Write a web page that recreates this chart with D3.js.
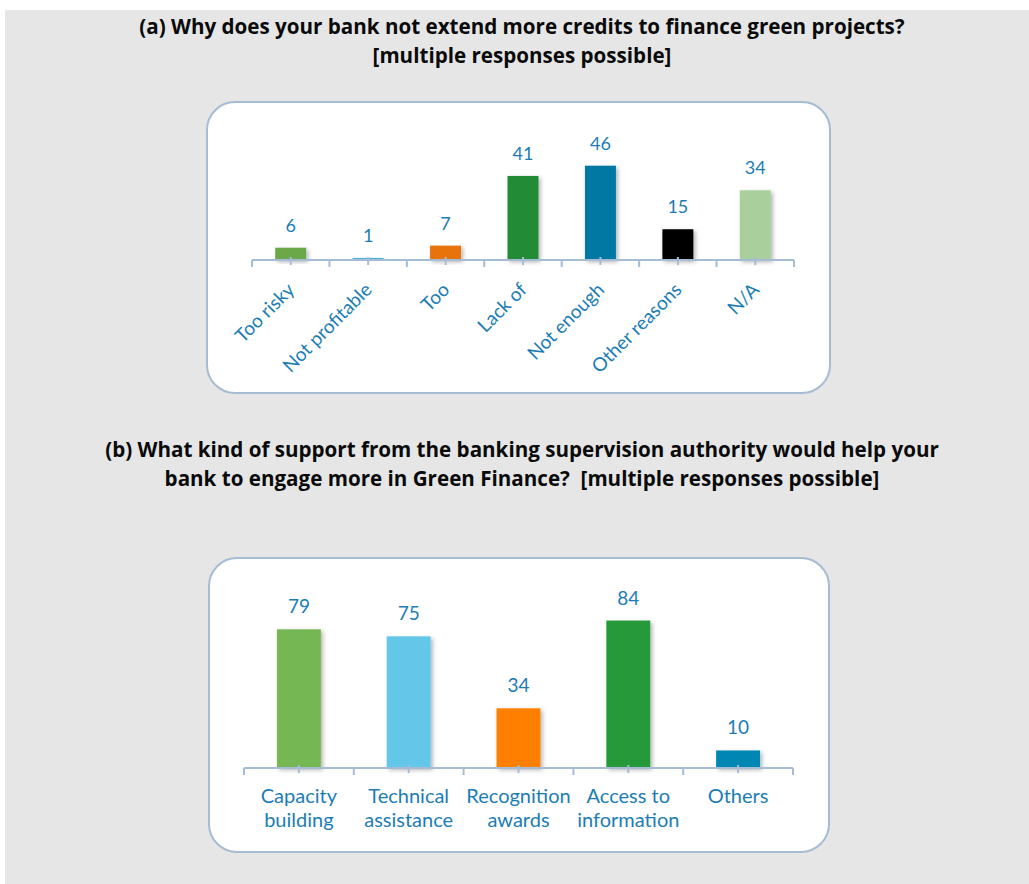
<!DOCTYPE html>
<html>
<head>
<meta charset="utf-8">
<script src="https://cdn.jsdelivr.net/npm/d3@7"></script>
<style>
  body { margin: 0; background: #fff; }
  svg { display: block; }
</style>
</head>
<body>
<svg id="chart"></svg>
<script>
// panel (a)
const reasons = ['Too risky', 'Not profitable', 'Too', 'Lack of', 'Not enough', 'Other reasons', 'N/A']
const reasonCounts = [6, 1, 7, 41, 46, 15, 34]
const reasonColors = ['#6aa84a', '#4eb1d6', '#e8730a', '#228b34', '#0078a3', '#000000', '#a9cf9c']

// panel (b)
const supports = [['Capacity', 'building'], ['Technical', 'assistance'], ['Recognition', 'awards'], ['Access to', 'information'], ['Others']]
const supportCounts = [79, 75, 34, 84, 10]
const supportColors = ['#75b752', '#63c7ea', '#ff8000', '#289a3a', '#0086b2']

const W = 1029, H = 884
const textColor = '#1b7db4'
const axisColor = '#a6bcd4'
const font = 'Lato, "Open Sans", sans-serif'

const svg = d3.select('#chart').attr('width', W).attr('height', H)

const defs = svg.append('defs')
const shadow = defs.append('filter').attr('id', 'shadow')
  .attr('x', '-20%').attr('y', '-20%').attr('width', '150%').attr('height', '150%')
shadow.append('feDropShadow')
  .attr('dx', 2).attr('dy', 2).attr('stdDeviation', 2)
  .attr('flood-color', '#000').attr('flood-opacity', 0.3)

svg.append('rect')
  .attr('x', 5).attr('y', 10)
  .attr('width', W - 5).attr('height', H - 10)
  .attr('fill', '#e6e6e6')

function title(lines, y0) {
  svg.append('text')
    .attr('x', 522)
    .attr('y', y0)
    .attr('text-anchor', 'middle')
    .style('font', 'bold 20.6px "Open Sans", sans-serif')
    .style('white-space', 'pre')
    .style('fill', '#0a0a0a')
    .selectAll('tspan')
    .data(lines)
    .enter()
    .append('tspan')
    .attr('x', 522)
    .attr('dy', (d, i) => i ? 28.5 : 0)
    .text(d => d)
}

function panel(x, y, w, h) {
  svg.append('rect')
    .attr('x', x).attr('y', y)
    .attr('width', w).attr('height', h)
    .attr('rx', 28)
    .attr('fill', '#fff')
    .attr('stroke', axisColor)
    .attr('stroke-width', 2)
}

function axis(x, y0, names) {
  const g = svg.append('g')
  const [x0, x1] = x.range()
  g.append('line')
    .attr('x1', x0).attr('x2', x1)
    .attr('y1', y0).attr('y2', y0)
    .attr('stroke', axisColor).attr('stroke-width', 2)
  const edges = names.map(n => x(n)).concat([x1])
  g.selectAll('.edge')
    .data(edges)
    .enter()
    .append('line')
    .attr('x1', d => d).attr('x2', d => d)
    .attr('y1', y0).attr('y2', y0 + 7)
    .attr('stroke', axisColor).attr('stroke-width', 2)
  g.selectAll('.mid')
    .data(names)
    .enter()
    .append('line')
    .attr('x1', d => x(d) + x.bandwidth() / 2)
    .attr('x2', d => x(d) + x.bandwidth() / 2)
    .attr('y1', y0 - 3).attr('y2', y0 + 5)
    .attr('stroke', axisColor).attr('stroke-width', 2)
}

function bars(x, y, names, values, colors, labelSize) {
  const data = names.map((n, i) => ({ name: n, value: values[i], color: colors[i] }))
  const bw = x.bandwidth()
  svg.append('g').selectAll('rect')
    .data(data)
    .enter()
    .append('rect')
    .attr('x', d => x(d.name) + bw * 0.3)
    .attr('width', bw * 0.4)
    .attr('y', d => y(d.value))
    .attr('height', d => y(0) - y(d.value))
    .attr('fill', d => d.color)
    .attr('filter', 'url(#shadow)')

  svg.append('g').selectAll('text')
    .data(data)
    .enter()
    .append('text')
    .text(d => d.value)
    .attr('x', d => x(d.name) + bw / 2)
    .attr('y', d => y(d.value) - 16)
    .attr('text-anchor', 'middle')
    .style('font', `${labelSize}px ${font}`)
    .style('fill', textColor)
}

// ---- (a)
title(['(a) Why does your bank not extend more credits to finance green projects?',
       '[multiple responses possible]'], 34)
panel(207, 102, 623, 291)

const xA = d3.scaleBand().domain(reasons).range([252, 794])
const yA = d3.scaleLinear().domain([0, 50]).range([260, 157.5])

bars(xA, yA, reasons, reasonCounts, reasonColors, 18)
axis(xA, 260, reasons)

svg.append('g').selectAll('text')
  .data(reasons)
  .enter()
  .append('text')
  .text(d => d)
  .attr('transform', d => `translate(${xA(d) + xA.bandwidth() / 2 + 5}, 291) rotate(-45)`)
  .attr('text-anchor', 'end')
  .style('font', `19px ${font}`)
  .style('fill', textColor)

// ---- (b)
title(['(b) What kind of support from the banking supervision authority would help your',
       'bank to engage more in Green Finance?  [multiple responses possible]'], 457)
panel(209, 558, 620, 294)

const supportKeys = supports.map(d => d.join(' '))
const xB = d3.scaleBand().domain(supportKeys).range([244, 793])
const yB = d3.scaleLinear().domain([0, 90]).range([768, 768 - 158])

bars(xB, yB, supportKeys, supportCounts, supportColors, 19)
axis(xB, 768, supportKeys)

svg.append('g').selectAll('text')
  .data(supports)
  .enter()
  .append('text')
  .attr('x', d => xB(d.join(' ')) + xB.bandwidth() / 2)
  .attr('y', 803)
  .attr('text-anchor', 'middle')
  .style('font', `20px ${font}`)
  .style('fill', textColor)
  .each(function (d) {
    const cx = xB(d.join(' ')) + xB.bandwidth() / 2
    d3.select(this).selectAll('tspan')
      .data(d)
      .enter()
      .append('tspan')
      .attr('x', cx)
      .attr('dy', (t, i) => i ? 24 : 0)
      .text(t => t)
  })
</script>
</body>
</html>
